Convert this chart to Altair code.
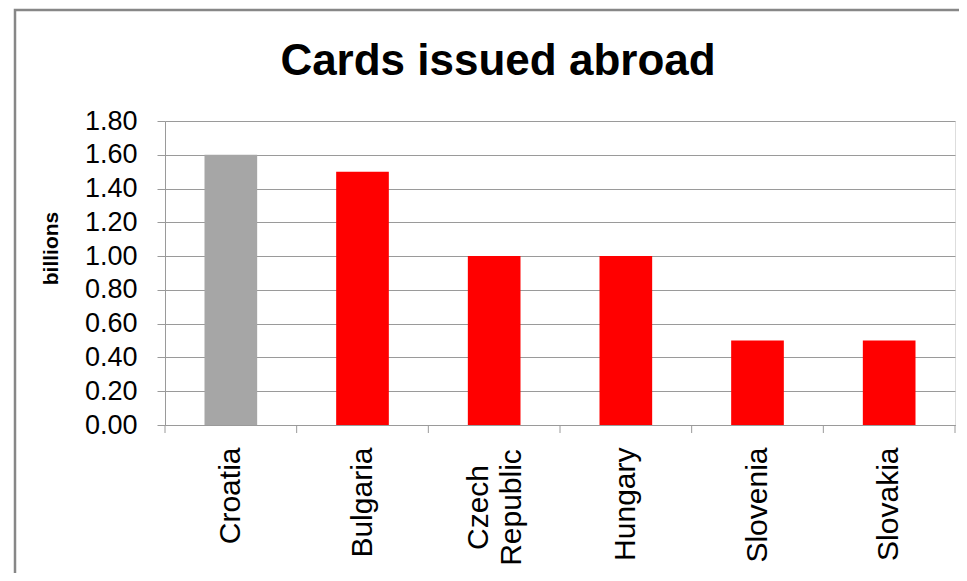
import altair as alt
import pandas as pd

countries = ["Croatia", "Bulgaria", "Czech Republic", "Hungary", "Slovenia", "Slovakia"]
values = [1.60, 1.50, 1.00, 1.00, 0.50, 0.50]
y_ticks = [0.0, 0.2, 0.4, 0.6, 0.8, 1.0, 1.2, 1.4, 1.6, 1.8]
title_text = "Cards issued abroad"
y_title = "billions"
home_country = "Croatia"

df = pd.DataFrame({"country": countries, "value": values})

W, H = 790, 304
PAD_INNER, PAD_OUTER = 0.6, 0.3
step = W / len(countries)
edge = PAD_OUTER * step
GRID = "#9a9a9a"
FONT = "Liberation Sans"
MULTI = "indexof(datum.value, ' ') >= 0"

x_scale = alt.Scale(paddingInner=PAD_INNER, paddingOuter=PAD_OUTER)

x_axis = alt.Axis(
    title=None,
    labelAngle=-90,
    ticks=False,
    domainColor=GRID,
    domainWidth=1,
    labelFont=FONT,
    labelFontSize=30,
    labelColor="black",
    labelLineHeight=33,
    labelExpr="split(datum.label, ' ')",
    labelBaseline="middle",
    labelAlign={"condition": {"test": MULTI, "value": "center"}, "value": "right"},
    labelPadding={"condition": {"test": MULTI, "value": 82}, "value": 22},
    labelOffset={"condition": {"test": MULTI, "value": -15}, "value": 0},
    labelLimit=300,
)

y_axis = alt.Axis(
    values=y_ticks,
    format=".2f",
    labelFont=FONT,
    labelFontSize=27,
    labelColor="black",
    labelPadding=20,
    tickSize=8,
    tickColor=GRID,
    domainColor=GRID,
    gridColor=GRID,
    gridWidth=1,
    title=y_title,
    titleFont=FONT,
    titleFontSize=21,
    titleFontWeight="bold",
    titleColor="black",
    titlePadding=23,
    titleY=127,
)

base = alt.Chart(df)

bars = base.mark_bar().encode(
    x=alt.X("country:N", sort=countries, scale=x_scale, axis=x_axis),
    y=alt.Y("value:Q", scale=alt.Scale(domain=[0, 1.8], nice=False), axis=y_axis),
    color=alt.condition(alt.datum.country == home_country, alt.value("#a6a6a6"), alt.value("#ff0000")),
)

ticks = base.mark_rule(color=GRID, strokeWidth=1, xOffset=-edge).encode(
    x=alt.X("country:N", sort=countries, bandPosition=0),
    y=alt.value(H),
    y2=alt.value(H + 8),
)

last_tick = base.transform_filter(alt.datum.country == countries[-1]).mark_rule(
    color=GRID, strokeWidth=1, xOffset=edge
).encode(
    x=alt.X("country:N", sort=countries, bandPosition=1),
    y=alt.value(H),
    y2=alt.value(H + 8),
)

single = alt.Data(values=[{"title": title_text}])

frame = alt.Chart(single).mark_rect(
    fillOpacity=0, stroke="#878787", strokeWidth=2.5
).encode(
    x=alt.value(-150),
    x2=alt.value(W + 200),
    y=alt.value(-111),
    y2=alt.value(H + 300),
)

title = alt.Chart(single).mark_text(
    font=FONT, fontSize=44, fontWeight="bold", color="black",
    align="center", baseline="alphabetic",
).encode(
    text="title:N",
    x=alt.value(W / 2 - 62),
    y=alt.value(-46),
)

chart = alt.layer(frame, bars, ticks, last_tick, title).properties(
    width=W,
    height=H,
    padding={"left": 157, "top": 113, "right": 4, "bottom": 148},
    autosize=alt.AutoSizeParams(type="none"),
).configure_view(stroke="transparent").configure(background="white")

chart.save("out.html", embed_options={"renderer": "svg", "actions": False})
